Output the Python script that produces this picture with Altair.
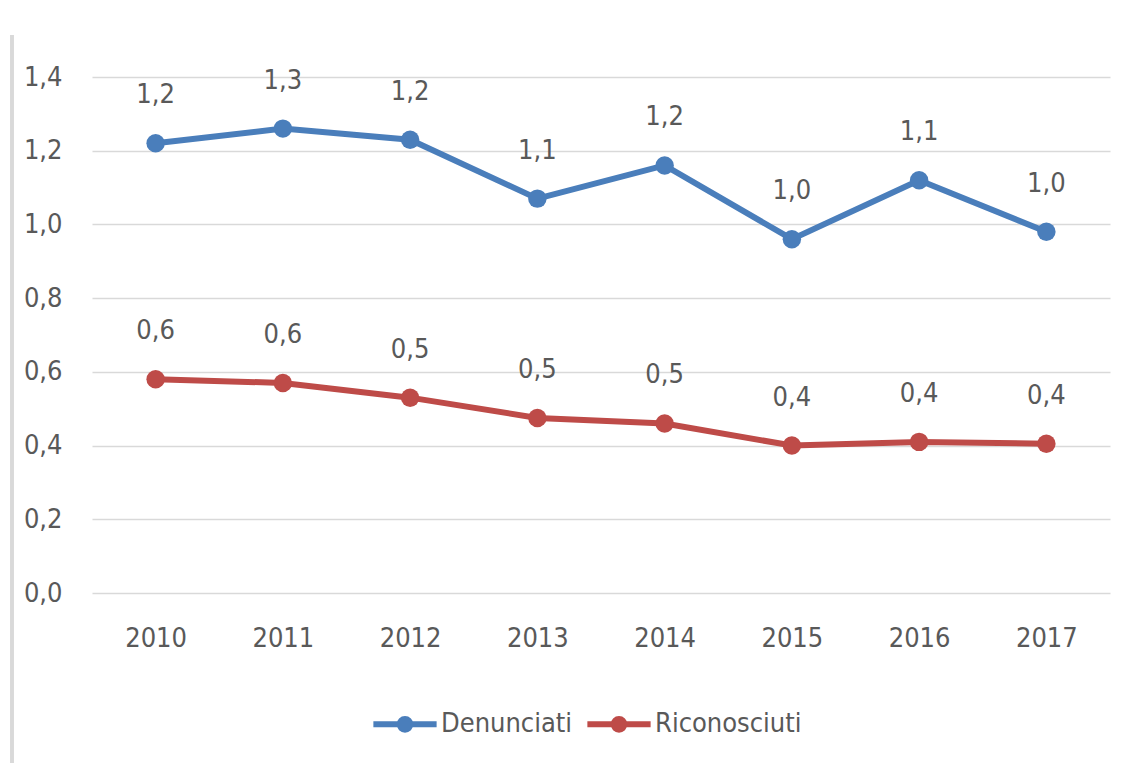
import altair as alt
import pandas as pd

years = ["2010", "2011", "2012", "2013", "2014", "2015", "2016", "2017"]
denunciati = [1.22, 1.26, 1.23, 1.07, 1.16, 0.96, 1.12, 0.98]
riconosciuti = [0.58, 0.57, 0.53, 0.475, 0.46, 0.40, 0.41, 0.405]
den_labels = ["1,2", "1,3", "1,2", "1,1", "1,2", "1,0", "1,1", "1,0"]
ric_labels = ["0,6", "0,6", "0,5", "0,5", "0,5", "0,4", "0,4", "0,4"]
series = ["Denunciati", "Riconosciuti"]
colors = ["#4A7EBB", "#BE4B48"]

rows = []
for y, v, l in zip(years, denunciati, den_labels):
    rows.append({"anno": y, "valore": v, "etichetta": l, "serie": series[0]})
for y, v, l in zip(years, riconosciuti, ric_labels):
    rows.append({"anno": y, "valore": v, "etichetta": l, "serie": series[1]})
df = pd.DataFrame(rows)

FONT = "DejaVu Sans Condensed, Open Sans"
GRAY = "#595959"

legend_path = ("M-1,0 L1,0 "
               "M-0.17,0 A0.17,0.17 0 1,0 0.17,0 A0.17,0.17 0 1,0 -0.17,0 "
               "M-0.06,0 A0.06,0.06 0 1,0 0.06,0 A0.06,0.06 0 1,0 -0.06,0")

color_scale = alt.Scale(domain=series, range=colors)
legend = alt.Legend(orient="none", direction="horizontal",
                    legendX=278, legendY=612,
                    symbolType=legend_path, symbolSize=4000,
                    symbolStrokeWidth=6, symbolOpacity=1,
                    labelFontSize=27, labelFont=FONT,
                    labelColor=GRAY, labelOffset=1,
                    columnPadding=2, title=None)

x_enc = alt.X("anno:N", sort=years, title=None,
              scale=alt.Scale(paddingInner=0, paddingOuter=0.5),
              axis=alt.Axis(labelAngle=0, labelFontSize=27, labelColor=GRAY,
                            labelFont=FONT, labelPadding=32, ticks=False,
                            domain=False, grid=False))
y_enc = alt.Y("valore:Q", title=None,
              scale=alt.Scale(domain=[0, 1.4], nice=False),
              axis=alt.Axis(values=[0, 0.2, 0.4, 0.6, 0.8, 1.0, 1.2, 1.4],
                            labelExpr="replace(format(datum.value, '.1f'), '.', ',')",
                            labelFontSize=27, labelColor=GRAY, labelFont=FONT,
                            labelPadding=30, ticks=False, domain=False,
                            grid=True, gridColor="#D9D9D9", gridWidth=1.5))

base = alt.Chart(df)

lines = base.mark_line(strokeWidth=6).encode(
    x=x_enc, y=y_enc,
    color=alt.Color("serie:N", scale=color_scale, legend=legend),
    detail="serie:N",
)

points = base.mark_point(filled=True, size=340, opacity=1).encode(
    x=alt.X("anno:N", sort=years),
    y="valore:Q",
    color=alt.Color("serie:N", scale=color_scale, legend=legend),
)

labels = base.mark_text(fontSize=27, font=FONT, color=GRAY, dy=-48).encode(
    x=alt.X("anno:N", sort=years),
    y="valore:Q",
    text="etichetta:N",
)

border = base.mark_rule(color="#D9D9D9", strokeWidth=3).encode(
    x=alt.value(-80), y=alt.value(-42), y2=alt.value(700)
)

chart = alt.layer(border, lines, points, labels).properties(
    width=1018, height=516,
    autosize=alt.AutoSizeParams(type="none"),
    padding={"left": 84, "top": 69, "right": 6, "bottom": 170},
    background="white",
).configure_view(strokeWidth=0)

chart.save("out.html", embed_options={"renderer": "svg", "actions": False})
